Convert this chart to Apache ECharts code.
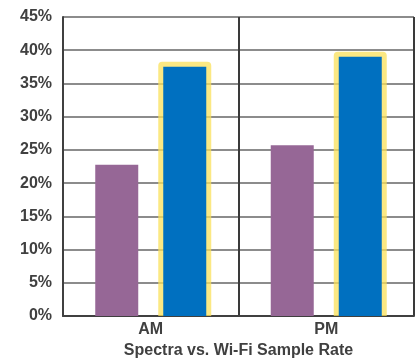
<!DOCTYPE html>
<html>
<head>
<meta charset="utf-8">
<script src="https://cdn.jsdelivr.net/npm/echarts@6/dist/echarts.min.js"></script>
<style>
  html, body { margin: 0; padding: 0; background: #ffffff; }
  #chart { width: 419px; height: 364px; }
</style>
</head>
<body>
<div id="chart"></div>
<script>
// Sample rate by time of day
const categories = ['AM', 'PM'];
const spectraRate = [22.75, 25.7];
const wifiRate = [37.5, 39.0];
const yTicks = [0, 5, 10, 15, 20, 25, 30, 35, 40, 45];
const axisTitle = 'Spectra vs. Wi-Fi Sample Rate';

const textColor = '#404040';
const font = 'Liberation Sans, Arial, sans-serif';

// Bar geometry (pixels)
const BAR_W = 43;
const BAR_GAP = 0.5814;                       // fraction of bar width
const WIFI_OFFSET = (BAR_W * (1 + BAR_GAP)) / 2; // center of the Wi-Fi bar from category center
const HALO = 5;                               // yellow outline thickness

const chart = echarts.init(document.getElementById('chart'), null, { renderer: 'canvas' });

chart.setOption({
  animation: false,
  backgroundColor: '#ffffff',
  grid: { left: 63, right: 5, top: 17, bottom: 44.5, containLabel: false },
  xAxis: {
    type: 'category',
    data: categories,
    boundaryGap: true,
    axisLine: { show: true, lineStyle: { color: '#404040', width: 2 } },
    axisTick: { show: false },
    splitLine: { show: true, lineStyle: { color: '#3a3a3a', width: 2 } },
    axisLabel: {
      color: textColor, fontFamily: font, fontWeight: 'bold', fontSize: 16, margin: 6
    },
    name: axisTitle,
    nameLocation: 'middle',
    nameGap: 27,
    nameTextStyle: {
      color: textColor, fontFamily: font, fontWeight: 'bold', fontSize: 16
    }
  },
  yAxis: {
    type: 'value',
    min: yTicks[0],
    max: yTicks[yTicks.length - 1],
    interval: yTicks[1] - yTicks[0],
    axisLine: { show: true, lineStyle: { color: '#404040', width: 2 } },
    axisTick: { show: false },
    splitLine: { show: true, lineStyle: { color: '#666666', width: 1.5 } },
    axisLabel: {
      color: textColor, fontFamily: font, fontWeight: 'bold', fontSize: 16, margin: 11,
      formatter: v => v + '%'
    }
  },
  series: [
    {
      // yellow outline behind the Wi-Fi bars (sides and top only)
      name: 'Wi-Fi outline',
      type: 'custom',
      z: 1,
      silent: true,
      data: categories.map((c, i) => [i, wifiRate[i]]),
      renderItem: function (params, api) {
        const top = api.coord([api.value(0), api.value(1)]);
        const base = api.coord([api.value(0), 0]);
        const cx = top[0] + WIFI_OFFSET;
        const half = BAR_W / 2 + HALO;
        return {
          type: 'rect',
          shape: {
            x: cx - half,
            y: top[1] - HALO,
            width: half * 2,
            height: base[1] - top[1] + HALO,
            r: [4, 4, 0, 0]
          },
          style: { fill: 'rgba(250,224,90,0.75)' }
        };
      }
    },
    {
      name: 'Spectra',
      type: 'bar',
      z: 2,
      data: spectraRate,
      barWidth: BAR_W,
      barGap: (BAR_GAP * 100) + '%',
      itemStyle: { color: '#966796' }
    },
    {
      name: 'Wi-Fi',
      type: 'bar',
      z: 2,
      data: wifiRate,
      barWidth: BAR_W,
      itemStyle: { color: '#0070C0' }
    }
  ]
});
</script>
</body>
</html>
